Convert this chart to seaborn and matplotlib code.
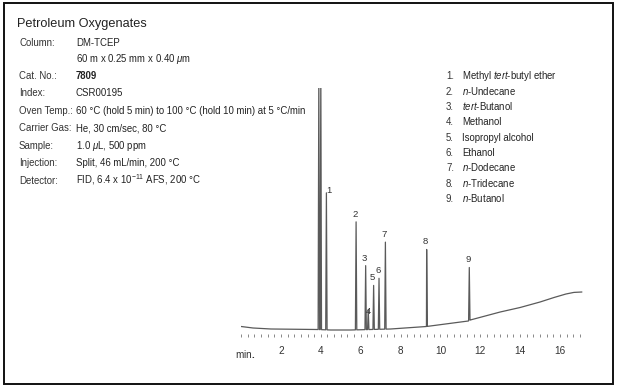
import numpy as np
import pandas as pd
import matplotlib
matplotlib.use("Agg")
import matplotlib.pyplot as plt
import seaborn as sns
from matplotlib.patches import Rectangle

# ---------------- data ----------------
title = "Petroleum Oxygenates"
info_labels = ["Column:", "", "Cat. No.:", "Index:", "Oven Temp.:", "Carrier Gas:",
               "Sample:", "Injection:", "Detector:"]
info_values = ["DM-TCEP",
               r"60 m x 0.25 mm x 0.40 $\mathit{\mu}$m",
               "7809",
               "CSR00195",
               "60 °C (hold 5 min) to 100 °C (hold 10 min) at 5 °C/min",
               "He, 30 cm/sec, 80 °C",
               r"1.0 $\mathit{\mu}$L, 500 ppm",
               "Split, 46 mL/min, 200 °C",
               r"FID, 6.4 x 10$^{-11}$ AFS, 200 °C"]
compounds = [r"Methyl $\mathit{tert}$-butyl ether",
             r"$\mathit{n}$-Undecane",
             r"$\mathit{tert}$-Butanol",
             "Methanol",
             "Isopropyl alcohol",
             "Ethanol",
             r"$\mathit{n}$-Dodecane",
             r"$\mathit{n}$-Tridecane",
             r"$\mathit{n}$-Butanol"]

# baseline (time in min, signal in arbitrary units)
base_t = [0.0, 0.6, 1.5, 3.8, 4.5, 5.5, 7.5, 9.3, 11.4, 11.5, 13.0, 14.0, 15.0, 15.7,
          16.3, 16.7, 17.1]
base_s = [3.5, 2.0, 1.0, 0.5, 0.0, 0.0, 1.0, 3.5, 9.0, 10.0, 18.0, 22.5, 28.0, 32.5,
          36.0, 37.6, 38.0]

# solvent peak (off scale) and numbered peaks
solvent_t = [3.90, 4.00]
solvent_h = [260, 260]
peak_t = [4.28, 5.77, 6.25, 6.38, 6.65, 6.92, 7.24, 9.31, 11.45]
peak_h = [137, 108, 64, 20, 44, 51, 87, 77, 53]
peak_ids = ["1", "2", "3", "4", "5", "6", "7", "8", "9"]

tick_major = [2, 4, 6, 8, 10, 12, 14, 16]

# ---------------- build trace ----------------
W = 0.035
all_t = solvent_t + peak_t
all_h = solvent_h + peak_h
pts = [(t, s) for t, s in zip(base_t, base_s)]
for t, h in zip(all_t, all_h):
    b = np.interp(t, base_t, base_s)
    pts += [(t - W, np.interp(t - W, base_t, base_s)), (t, b + h),
            (t + W, np.interp(t + W, base_t, base_s))]
pts.sort(key=lambda p: p[0])
trace = pd.DataFrame(pts, columns=["time", "signal"])

# ---------------- figure ----------------
sns.set_theme(style="white")
plt.rcParams["font.family"] = ["Liberation Sans", "DejaVu Sans"]
plt.rcParams["mathtext.fontset"] = "custom"
plt.rcParams["mathtext.rm"] = "Liberation Sans"
plt.rcParams["mathtext.it"] = "Liberation Sans:italic"
plt.rcParams["mathtext.bf"] = "Liberation Sans:bold"

FW, FH = 617, 389
fig = plt.figure(figsize=(FW / 100, FH / 100), dpi=100)

px_per_min = 19.93
x0 = 241.1
xmax = 17.5
ax_bottom_px, ax_top_px = 334, 88
ax = fig.add_axes([x0 / FW, (FH - ax_bottom_px) / FH,
                   xmax * px_per_min / FW, (ax_bottom_px - ax_top_px) / FH])
ax.set_ylim(330 - ax_bottom_px, 330 - ax_top_px)
ax.set_xlim(0, xmax)

sns.lineplot(data=trace, x="time", y="signal", ax=ax, sort=False, estimator=None,
             color="#5a5a5a", linewidth=0.9)

for s in ax.spines.values():
    s.set_visible(False)
ax.set_xlabel("")
ax.set_ylabel("")
ax.set_yticks([])
ax.set_xticks(tick_major)
ax.set_xticklabels([str(v) for v in tick_major])
ax.set_xticks(np.arange(0, 17.01, 1 / 3), minor=True)
ax.tick_params(axis="x", which="both", direction="out", length=2.5, width=0.7,
               color="#888888", bottom=True, labelsize=7.2, labelcolor="#333333", pad=6)
ax.text(0.2, -0.055, r"min$\mathbf{.}$", transform=ax.get_xaxis_transform(),
        ha="center", va="top", fontsize=7.2, color="#333333")

# peak labels
offsets = {"1": (3, -2), "4": (0, -6)}
for pid, t, h in zip(peak_ids, peak_t, peak_h):
    b = np.interp(t, base_t, base_s)
    dx, dy = offsets.get(pid, (-1, 3))
    ax.annotate(pid, (t, b + h), xytext=(dx, dy), textcoords="offset pixels",
                ha="center", va="bottom", fontsize=6.8, color="#333333")

# ---------------- text ----------------
def fy(y):
    # y = visual centre of capitals in pixels from top -> baseline position
    return 1 - (y + 3.6) / FH

fig.text(17 / FW, 1 - (22 + 4.6) / FH, title, fontsize=9.2, color="#222222",
         va="baseline")
row_y = [42, 58.5, 75.5, 92.5, 110, 127.5, 145.5, 162.5, 180]
for lab, val, y in zip(info_labels, info_values, row_y):
    fig.text(19 / FW, fy(y), lab, fontsize=6.9, color="#333333", va="baseline")
    fig.text(76 / FW, fy(y), val, fontsize=6.9, color="#222222", va="baseline",
             fontweight="bold" if val == "7809" else "normal")

leg_y = [75, 91.5, 106.5, 121.5, 137, 152.5, 167.5, 183, 198]
for i, (name, y) in enumerate(zip(compounds, leg_y)):
    fig.text(446 / FW, fy(y), f"{i + 1}.", fontsize=6.9, color="#333333", va="baseline")
    fig.text(462 / FW, fy(y), name, fontsize=6.9, color="#222222", va="baseline")

fig.patches.append(Rectangle((4 / FW, 5 / FH), 609 / FW, 381 / FH, transform=fig.transFigure,
                             fill=False, edgecolor="#111111", linewidth=1.4))

fig.savefig("out.png", dpi=100)
